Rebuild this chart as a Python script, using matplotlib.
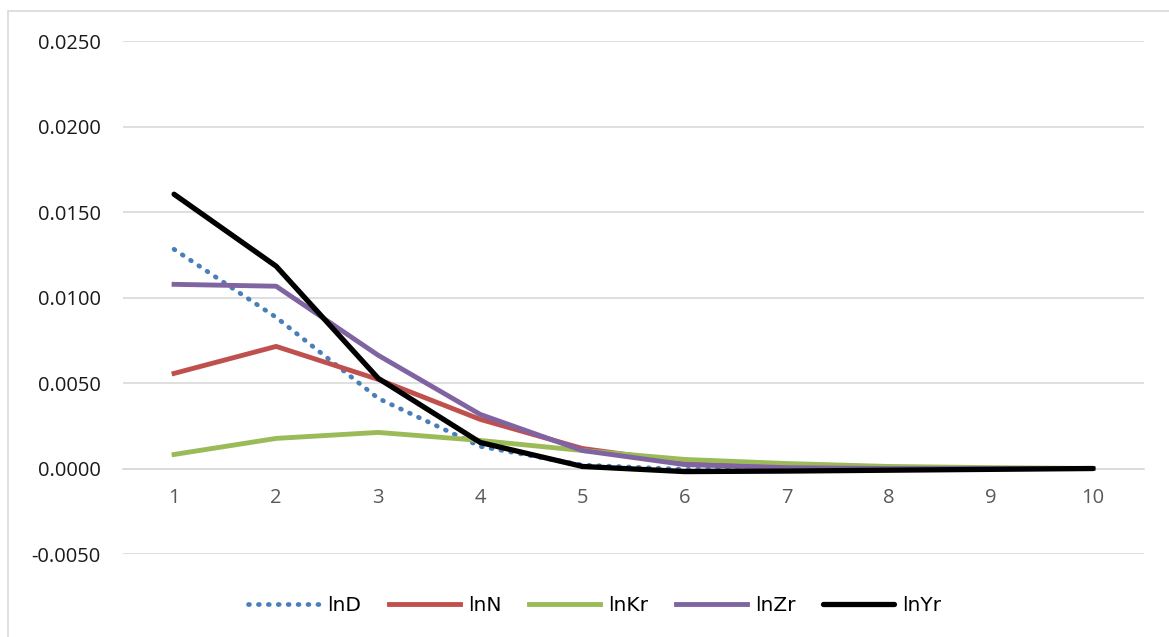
import matplotlib.pyplot as plt
from matplotlib.patches import Rectangle

x = [1, 2, 3, 4, 5, 6, 7, 8, 9, 10]
lnD = [0.01282, 0.00884, 0.00410, 0.00129, 0.00020, -0.00005, 0.0, 0.0, 0.0, 0.0]
lnN = [0.00556, 0.00714, 0.00521, 0.00287, 0.00117, 0.00035, 0.00010, 0.00003, 0.0, 0.0]
lnKr = [0.00082, 0.00176, 0.00211, 0.00164, 0.00105, 0.00053, 0.00029, 0.00012, 0.00005, 0.0]
lnZr = [0.01077, 0.01066, 0.00662, 0.00316, 0.00105, 0.00023, 0.00005, 0.0, 0.0, 0.0]
lnYr = [0.01604, 0.01183, 0.00527, 0.00152, 0.00012, -0.00018, -0.00015, -0.00010, -0.00005, 0.0]
yticks = [-0.005, 0.0, 0.005, 0.010, 0.015, 0.020, 0.025]

plt.rcParams['font.family'] = ['Open Sans', 'DejaVu Sans']

fig = plt.figure(figsize=(11.69, 6.37), dpi=100)
ax = fig.add_axes([123 / 1169, 1 - 554 / 637, (1144 - 123) / 1169, (554 - 41) / 637])

# chart border (only left/top visible in the crop)
fig.patches.append(Rectangle((8 / 1169, -0.1), 1.2, 1 - 11 / 637 + 0.1,
                             transform=fig.transFigure, fill=False,
                             edgecolor='#d9d9d9', lw=1.2))

ax.plot(x, lnD, color='#4a7ebb', lw=3.4, linestyle=(0, (0.2, 1.9)),
        dash_capstyle='round', label='lnD', zorder=3)
ax.plot(x, lnN, color='#c0504d', lw=3.5, label='lnN', zorder=3)
ax.plot(x, lnKr, color='#9bbb59', lw=3.5, label='lnKr', zorder=3)
ax.plot(x, lnZr, color='#8064a2', lw=3.5, label='lnZr', zorder=3)
ax.plot(x, lnYr, color='black', lw=3.8, label='lnYr', zorder=4,
        solid_capstyle='round')

# x axis crosses at 0 (set before tick labels, it resets the axis)
for s in ['top', 'right', 'left']:
    ax.spines[s].set_visible(False)
ax.spines['bottom'].set_position(('data', 0))
ax.spines['bottom'].set_color('#d9d9d9')
ax.spines['bottom'].set_linewidth(1.2)

ax.set_xlim(0.5, 10.5)
ax.set_ylim(-0.005, 0.025)
ax.set_yticks(yticks)
ax.set_yticklabels([f'{v:.4f}' for v in yticks], fontsize=14.5, color='#1a1a1a')
ax.set_xticks(x)
ax.set_xticklabels([str(v) for v in x], fontsize=14.5, color='#595959')
ax.grid(axis='y', color='#d9d9d9', lw=1.2)
ax.set_axisbelow(True)
ax.tick_params(axis='x', length=0, pad=14)
ax.tick_params(axis='y', length=0, pad=16)

ax.legend(loc='center', bbox_to_anchor=(0.462, -0.10), ncol=5, frameon=False,
          handlelength=3.5, columnspacing=1.4, handletextpad=0.4,
          prop={'family': ['Liberation Sans Narrow', 'DejaVu Sans'], 'size': 14.5})

fig.savefig('out.png', dpi=100)
